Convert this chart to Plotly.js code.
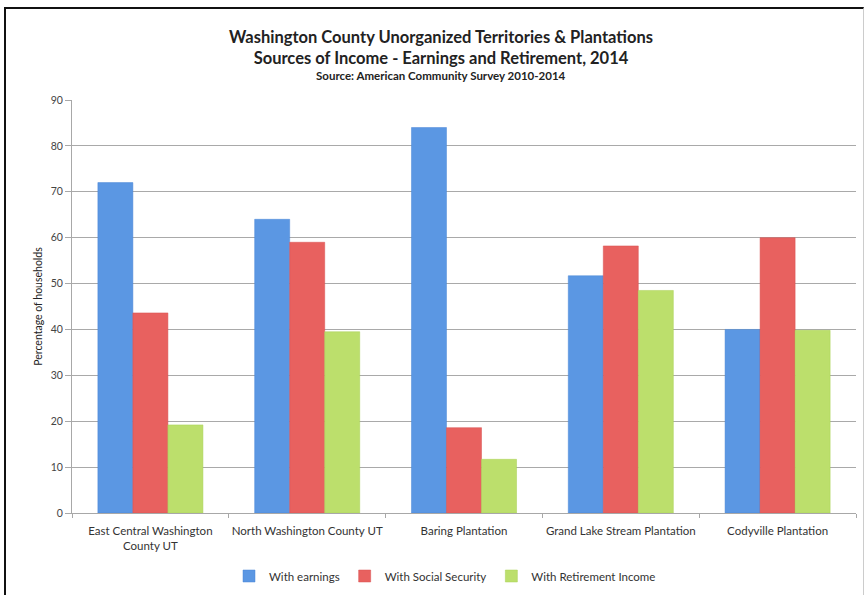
<!DOCTYPE html>
<html>
<head>
<meta charset="utf-8">
<script src="https://cdn.plot.ly/plotly-3.0.1.min.js"></script>
<style>
  html, body { margin: 0; padding: 0; background: #fff; }
  #wrap { position: relative; width: 865px; height: 595px; }
  #chart { width: 865px; height: 595px; }
  #frame { position: absolute; left: 4px; top: 7px; width: 857px; height: 586px;
           border-left: 2px solid #111; border-top: 2px solid #111;
           border-right: 1px solid #ccc; border-bottom: 1px solid #bbb;
           pointer-events: none; box-sizing: content-box; }
</style>
</head>
<body>
<div id="wrap">
  <div id="chart"></div>
  <div id="frame"></div>
</div>
<script>
const categories = [
  "East Central Washington<br>County UT",
  "North Washington County UT",
  "Baring Plantation",
  "Grand Lake Stream Plantation",
  "Codyville Plantation"
];
const withEarnings = [72, 64, 84, 51.7, 40];
const withSocialSecurity = [43.6, 59, 18.6, 58.2, 60];
const withRetirementIncome = [19.2, 39.5, 11.7, 48.5, 39.8];
const seriesNames = ["With earnings", "With Social Security", "With Retirement Income"];
const yTicks = [0, 10, 20, 30, 40, 50, 60, 70, 80, 90];

const FONT = "Lato, 'Open Sans', sans-serif";
const colors = ["#5b97e3", "#e8615f", "#bcdf6c"];
const lineColors = ["#4a86d6", "#d95050", "#a9d054"];
const values = [withEarnings, withSocialSecurity, withRetirementIncome];

const data = values.map((v, i) => ({
  type: "bar",
  name: seriesNames[i],
  x: categories,
  y: v,
  marker: { color: colors[i], line: { color: lineColors[i], width: 0.5 } },
  hoverinfo: "x+y+name"
}));

const layout = {
  width: 865,
  height: 595,
  margin: { l: 72, r: 9, t: 100, b: 82, autoexpand: false },
  paper_bgcolor: "#ffffff",
  plot_bgcolor: "#ffffff",
  font: { family: FONT, color: "#333", size: 11 },
  barmode: "group",
  bargap: 0.33,
  bargroupgap: 0,
  title: {
    text: "<b>Washington County Unorganized Territories &amp; Plantations</b><br><b>Sources of Income - Earnings and Retirement, 2014</b>",
    font: { family: FONT, size: 16.5, color: "#222" },
    x: 441 / 865,
    xanchor: "center",
    xref: "container",
    y: 1 - 43 / 595,
    yanchor: "top",
    yref: "container"
  },
  annotations: [{
    text: "<b>Source: American Community Survey 2010-2014</b>",
    xref: "paper", yref: "paper",
    x: (441 - 72) / 784, y: (513 - 75) / 413,
    xanchor: "center", yanchor: "middle",
    showarrow: false,
    font: { family: FONT, size: 11.5, color: "#222" }
  }],
  xaxis: {
    type: "category",
    showgrid: false,
    showline: true,
    linecolor: "#a8a8a8",
    linewidth: 1,
    ticks: "outside",
    tickson: "boundaries",
    ticklen: 4,
    tickcolor: "#a8a8a8",
    tickangle: 0,
    ticklabelstandoff: 7,
    tickfont: { family: FONT, size: 11.5, color: "#333" },
    zeroline: false,
    automargin: false
  },
  yaxis: {
    range: [0, 90],
    tickvals: yTicks,
    ticktext: yTicks.map(String),
    showgrid: true,
    gridcolor: "#a9a9a9",
    gridwidth: 1,
    showline: true,
    linecolor: "#a8a8a8",
    ticks: "outside",
    ticklen: 6,
    tickcolor: "#a8a8a8",
    tickfont: { family: FONT, size: 10.5, color: "#444" },
    zeroline: false,
    automargin: false,
    title: { text: "Percentage of households", font: { family: FONT, size: 10.5, color: "#222" }, standoff: 6 }
  },
  legend: {
    orientation: "h",
    x: (445 - 72) / 784,
    xanchor: "center",
    y: (513 - 576) / 413,
    yanchor: "middle",
    font: { family: FONT, size: 11.5, color: "#333" },
    itemwidth: 30,
    bgcolor: "rgba(0,0,0,0)"
  },
  showlegend: true
};

Plotly.newPlot("chart", data, layout, { displayModeBar: false, staticPlot: true });
</script>
</body>
</html>
